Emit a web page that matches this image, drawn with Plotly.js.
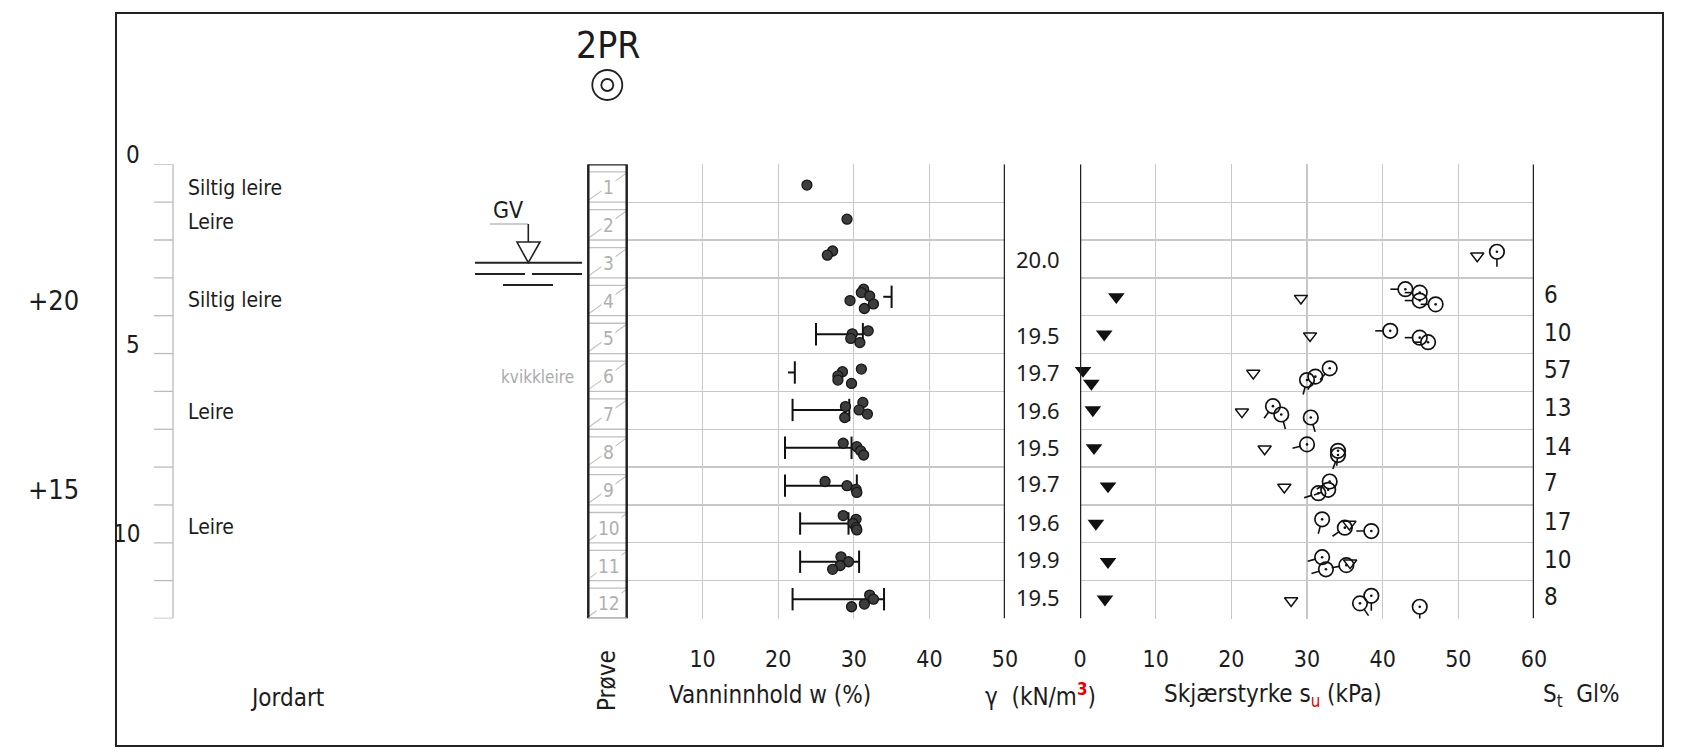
<!DOCTYPE html>
<html><head><meta charset="utf-8">
<script src="https://cdn.plot.ly/plotly-3.0.1.min.js"></script>
<style>html,body{margin:0;padding:0;background:#fff;} #chart{width:1686px;height:753px;}</style>
</head><body><div id="chart"></div>
<script>
// ---------------- DATA ----------------
const boreholeName = '2PR';
const groundElev = 23.6;
const elevTicks = [20, 15, 10];
const depthTicks = [0, 5, 10];
const depthMinor = [0,1,2,3,4,5,6,7,8,9,10,11,12];
const gvDepth = 2.6;

const soilNames  = ['Siltig leire', 'Leire', 'Siltig leire', 'Leire', 'Leire'];
const soilDepths = [0.63, 1.52, 3.58, 6.54, 9.58];
const quickLabel = 'kvikkleire';
const quickDepth = 5.62;

const sampleNo  = [1,2,3,4,5,6,7,8,9,10,11,12];
const sampleTop = [0.2,1.2,2.2,3.2,4.2,5.2,6.2,7.2,8.2,9.2,10.2,11.2];
const sampleBot = [1,2,3,4,5,6,7,8,9,10,11,12];

// water content w (%)
const wDepth = [0.55, 1.45, 2.29,2.40, 3.30,3.39,3.48,3.60,3.69,3.81, 4.40,4.48,4.60,4.71,
  5.41,5.48,5.59,5.70,5.79, 6.29,6.40,6.49,6.60,6.69, 7.37,7.46,7.57,7.68, 8.38,8.49,8.59,8.67,
  9.28,9.38,9.49,9.60,9.66, 10.37,10.50,10.60,10.70, 11.38,11.49,11.62,11.69];
const wValue = [23.8, 29.1, 27.2,26.5, 31.3,31.0,32.1,29.5,32.6,31.4, 31.9,29.8,29.6,30.8,
  31.0,28.5,27.9,27.9,29.7, 31.2,28.9,30.7,31.8,28.8, 28.6,30.4,30.9,31.3, 26.2,29.1,30.3,30.4,
  28.6,30.3,29.9,30.3,30.4, 28.3,29.3,28.2,27.2, 32.1,32.6,31.4,29.7];

// limit bars (plastic / liquid limit)
const limDepth  = [3.50, 4.49, 5.50, 6.49, 7.49, 8.49, 9.49, 10.50, 11.49];
const limLow    = [33.9, 25.0, 21.3, 21.9, 20.9, 20.9, 22.9, 22.9, 21.9];
const limHigh   = [35.0, 31.2, 22.2, 29.4, 29.7, 30.4, 29.3, 30.7, 34.0];
const limLowTick= [false, true, false, true, true, true, true, true, true];

// unit weight gamma (kN/m3)
const gammaDepth = [2.51, 4.51, 5.48, 6.49, 7.46, 8.43, 9.44, 10.44, 11.42];
const gammaValue = [20.0, 19.5, 19.7, 19.6, 19.5, 19.7, 19.6, 19.9, 19.5];

// sensitivity St
const stDepth = [3.45, 4.46, 5.43, 6.45, 7.46, 8.43, 9.44, 10.45, 11.42];
const stValue = [6, 10, 57, 13, 14, 7, 17, 10, 8];

// shear strength su (kPa)
const remDepth = [3.50, 4.49, 5.45, 5.79, 6.49, 7.49, 8.50, 9.49, 10.50, 11.49];
const remSu    = [4.8, 3.2, 0.4, 1.5, 1.7, 1.85, 3.7, 2.1, 3.7, 3.3];
const coneDepth = [2.42, 3.54, 4.53, 5.52, 6.54, 7.52, 8.53, 9.51, 10.53, 11.53];
const coneSu    = [52.5, 29.2, 30.4, 22.9, 21.4, 24.4, 27.0, 35.6, 35.7, 27.9];
const ucDepth = [2.31, 3.30,3.39,3.60,3.70, 4.40,4.58,4.70, 5.39,5.61,5.70, 6.39,6.61,6.69,
  7.40,7.57,7.68, 8.38,8.60,8.69, 9.38,9.60,9.69, 10.38,10.70,10.59, 11.40,11.60,11.69];
const ucSu    = [55.1, 43.0,44.9,44.9,47.0, 41.0,44.9,46.0, 33.0,31.1,30.0, 25.5,26.6,30.5,
  30.0,34.1,34.1, 33.0,32.8,31.5, 32.0,35.0,38.5, 32.0,32.5,35.2, 38.5,37.0,44.9];
const ucTailDeg = [90, 180,180,180,180, 180,180,180, 130,120,105, 126,74,73,
  165,95,110, 150,160,162, 105,145,180, 164,164,170, 90,55,90];

const wTicks  = [10, 20, 30, 40, 50];
const suTicks = [0, 10, 20, 30, 40, 50, 60];

// ---------------- LAYOUT HELPERS ----------------
const W = 1686, H = 753;
const px = v => v / W;
const py = v => 1 - v / H;
const TOP = 164.3, BOT = 618.5;
const yDom = [py(BOT), py(TOP)];
const NARROW = '"Liberation Sans Narrow", "DejaVu Sans Condensed", "Arial Narrow", "DejaVu Sans", sans-serif';
const SANS = '"Noto Sans", "Open Sans", sans-serif';
const INK = '#1c1c1c';
const GRID = '#c8c8c8';
const PX_PER_M = (BOT - TOP) / 12;
const SU_X0 = 1080, SU_X1 = 1534;
const PX_PER_KPA = (SU_X1 - SU_X0) / 60;

const shapes = [];
const annotations = [];
function line(x0, y0, x1, y1, color, width, xref, yref, extra) {
  shapes.push(Object.assign({type:'line', x0, y0, x1, y1, xref, yref, line:{color, width}, layer:'above'}, extra||{}));
}
function ann(text, x, y, o) {
  annotations.push(Object.assign({text, x, y, xref:'paper', yref:'paper', showarrow:false,
    font:{family:NARROW, size:22, color:INK}, xanchor:'center', yanchor:'middle'}, o||{}));
}

// frame
shapes.push({type:'rect', xref:'paper', yref:'paper', x0:px(116), x1:px(1663), y0:py(746), y1:py(13),
  line:{color:'#222', width:2}});

// depth scale
line(px(173), 0, px(173), 12, '#bbbbbb', 1.3, 'paper', 'y');
depthMinor.forEach(d => line(px(154), d, px(173), d, '#bbbbbb', 1.3, 'paper', 'y'));
depthTicks.forEach(d => ann(String(d), px(142), d, {yref:'y', xanchor:'right', yshift:9, font:{family:NARROW, size:24, color:INK}}));
elevTicks.forEach(e => ann('+' + e, px(26), groundElev - e, {yref:'y', xanchor:'left', font:{family:NARROW, size:27, color:INK}}));

// soil names
soilNames.forEach((s, i) => ann(s, px(186), soilDepths[i], {yref:'y', xanchor:'left', font:{family:NARROW, size:21, color:INK}}));
ann(quickLabel, px(576), quickDepth, {yref:'y', xanchor:'right', font:{family:NARROW, size:17, color:'#aaaaaa'}});

// groundwater symbol (GV)
line(px(490), 38.7, px(528), 38.7, '#999', 1.2, 'paper', 'y', {ysizemode:'pixel', yanchor:gvDepth});
line(px(528.3), 38.7, px(528.3), 20.7, '#222', 1.6, 'paper', 'y', {ysizemode:'pixel', yanchor:gvDepth});
shapes.push({type:'path', xref:'paper', yref:'y', ysizemode:'pixel', yanchor:gvDepth,
  path:`M${px(517)},20.7 L${px(540)},20.7 L${px(528.3)},0 Z`, line:{color:'#222', width:1.6}, fillcolor:'rgba(0,0,0,0)'});
line(px(475), 0, px(582), 0, '#222', 2, 'paper', 'y', {ysizemode:'pixel', yanchor:gvDepth});
line(px(475), -11.3, px(525), -11.3, '#222', 2, 'paper', 'y', {ysizemode:'pixel', yanchor:gvDepth});
line(px(532), -11.3, px(582), -11.3, '#222', 2, 'paper', 'y', {ysizemode:'pixel', yanchor:gvDepth});
line(px(503), -22.3, px(553), -22.3, '#222', 2, 'paper', 'y', {ysizemode:'pixel', yanchor:gvDepth});
ann('GV', px(507.5), gvDepth, {yref:'y', yshift:52.5, font:{family:NARROW, size:23, color:INK}});

// sample column
sampleNo.forEach((n, i) => {
  const t = sampleTop[i], b = sampleBot[i];
  line(px(588), t, px(627), t, '#c0c0c0', 1.3, 'paper', 'y');
  line(px(588), b, px(627), b, '#c0c0c0', 1.3, 'paper', 'y');
  line(px(589), b - 0.06, px(626), t + 0.04, '#c0c0c0', 1.1, 'paper', 'y');
  ann(String(n), px(608.5), (t + b) / 2, {yref:'y', bgcolor:'#ffffff', borderpad:1,
    font:{family:NARROW, size:19, color:'#b0b0b0'}});
});
line(px(588.3), 0, px(588.3), 12, '#222', 2.5, 'paper', 'y');
line(px(626.7), 0, px(626.7), 12, '#222', 2.5, 'paper', 'y');
line(px(588.3), 0, px(626.7), 0, '#222', 2.5, 'paper', 'y');
line(px(588.3), 12, px(626.7), 12, '#aaaaaa', 2.5, 'paper', 'y');

// panel borders
line(50, 0, 50, 12, '#222', 2.5, 'x', 'y');
line(0, 0, 0, 12, '#222', 2.5, 'x2', 'y2');
line(60, 0, 60, 12, '#222', 2.5, 'x2', 'y2');

// gamma and St columns
gammaValue.forEach((g, i) => ann(g.toFixed(1), px(1014), gammaDepth[i], {yref:'y', xanchor:'left', font:{family:SANS, size:22, color:INK}}));
stValue.forEach((s, i) => ann(String(s), px(1542), stDepth[i], {yref:'y', xanchor:'left', font:{family:NARROW, size:24, color:INK}}));

// header
ann(boreholeName, px(607.5), py(46), {font:{family:NARROW, size:37, color:INK}});
shapes.push({type:'circle', xref:'paper', yref:'paper', x0:px(607.3-15), x1:px(607.3+15), y0:py(85+15), y1:py(85-15), line:{color:'#222', width:1.8}});
shapes.push({type:'circle', xref:'paper', yref:'paper', x0:px(607.3-6), x1:px(607.3+6), y0:py(85+6), y1:py(85-6), line:{color:'#222', width:1.8}});

// bottom titles
const TF = {family:NARROW, size:24, color:INK};
ann('Jordart', px(248), py(698), {xanchor:'left', font:TF});
ann('Prøve', px(607), py(681), {textangle:-90, font:TF});
ann('Vanninnhold w (%)', px(667), py(695), {xanchor:'left', font:TF});
ann('γ  (kN/m<sup><b><span style="color:#e00000">3</span></b></sup>)', px(983), py(695), {xanchor:'left', font:TF});
ann('Skjærstyrke s<sub><span style="color:#e00000">u</span></sub> (kPa)', px(1162), py(695), {xanchor:'left', font:TF});
ann('S<sub>t</sub>  Gl%', px(1541), py(695), {xanchor:'left', font:TF});

// ---------------- TRACES ----------------
const limX = [], limY = [];
limDepth.forEach((d, i) => { limX.push(limLow[i], limHigh[i], null); limY.push(d, d, null); });
const tickX = [], tickY = [];
limDepth.forEach((d, i) => { tickX.push(limHigh[i]); tickY.push(d); if (limLowTick[i]) { tickX.push(limLow[i]); tickY.push(d); } });

const tailX = [], tailY = [];
ucSu.forEach((s, i) => {
  const a = ucTailDeg[i] * Math.PI / 180;
  const c = Math.cos(a), sn = Math.sin(a);
  tailX.push(s + c * 7 / PX_PER_KPA, s + c * 15 / PX_PER_KPA, null);
  tailY.push(ucDepth[i] + sn * 7 / PX_PER_M, ucDepth[i] + sn * 15 / PX_PER_M, null);
});

const K = '#111';
const traces = [
  {x:limX, y:limY, xaxis:'x', yaxis:'y', mode:'lines', line:{color:K, width:2}, cliponaxis:false},
  {x:tickX, y:tickY, xaxis:'x', yaxis:'y', mode:'markers', marker:{symbol:'line-ns-open', size:16, color:K, line:{color:K, width:2}}, cliponaxis:false},
  {x:wValue, y:wDepth, xaxis:'x', yaxis:'y', mode:'markers', marker:{symbol:'circle', size:10, color:'#3d3d3d', line:{color:'#161616', width:1.3}}, cliponaxis:false},
  {x:tailX, y:tailY, xaxis:'x2', yaxis:'y2', mode:'lines', line:{color:K, width:1.6}, cliponaxis:false},
  {x:ucSu, y:ucDepth, xaxis:'x2', yaxis:'y2', mode:'markers', marker:{symbol:'circle-open', size:14.5, color:K, line:{color:K, width:1.7}}, cliponaxis:false},
  {x:ucSu, y:ucDepth, xaxis:'x2', yaxis:'y2', mode:'markers', marker:{symbol:'circle', size:2.6, color:K, line:{width:0}}, cliponaxis:false},
  {x:coneSu, y:coneDepth, xaxis:'x2', yaxis:'y2', mode:'markers', marker:{symbol:'triangle-down-open', size:11.5, color:K, line:{color:K, width:1.5}}, cliponaxis:false},
  {x:remSu, y:remDepth, xaxis:'x2', yaxis:'y2', mode:'markers', marker:{symbol:'triangle-down', size:14.5, color:K, line:{width:0}}, cliponaxis:false}
];

const xCommon = {showgrid:true, gridcolor:GRID, gridwidth:1.3, zeroline:false, showline:false, ticks:'',
  ticklabelstandoff:24, tickfont:{family:NARROW, size:23, color:INK}, fixedrange:true};
const yCommon = {domain:yDom, range:[12, 0], dtick:1, tick0:0, showgrid:true, gridcolor:GRID, gridwidth:1.3,
  showticklabels:false, zeroline:false, showline:false, ticks:'', fixedrange:true};

const layout = {
  width:W, height:H, autosize:false, margin:{l:0, r:0, t:0, b:0},
  paper_bgcolor:'#fff', plot_bgcolor:'rgba(0,0,0,0)', showlegend:false, hovermode:false,
  xaxis:Object.assign({}, xCommon, {domain:[px(627), px(1005)], range:[0, 50], tickvals:wTicks, anchor:'y'}),
  yaxis:Object.assign({}, yCommon, {anchor:'x'}),
  xaxis2:Object.assign({}, xCommon, {domain:[px(SU_X0), px(SU_X1)], range:[0, 60], tickvals:suTicks, anchor:'y2'}),
  yaxis2:Object.assign({}, yCommon, {anchor:'x2'}),
  shapes, annotations
};
Plotly.newPlot('chart', traces, layout, {staticPlot:true, displayModeBar:false});
</script></body></html>
